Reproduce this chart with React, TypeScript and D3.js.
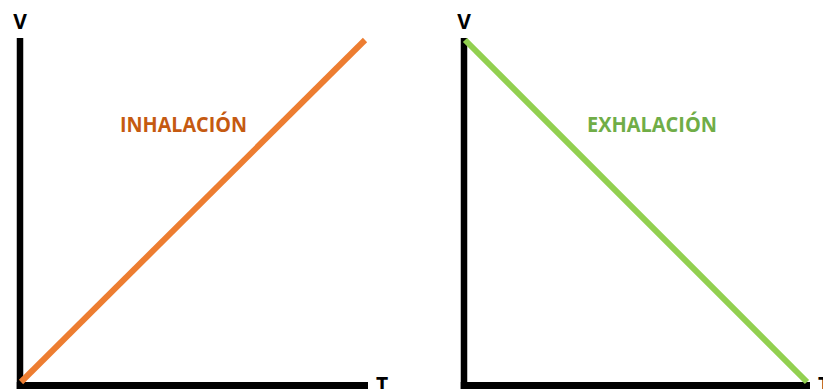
import React from "react";
import * as d3 from "d3";

// Volume over time for each breathing phase (normalised units)
const inhalationT = [0, 1];
const inhalationV = [0, 1];
const exhalationT = [0, 1];
const exhalationV = [1, 0];

const panelTitles = ["INHALACIÓN", "EXHALACIÓN"];
const axisLabels = { x: "T", y: "V" };

const W = 823;
const H = 389;
const FONT = "'Open Sans', 'DejaVu Sans', sans-serif";

type Panel = {
  left: number;
  right: number;
  t: number[];
  v: number[];
  title: string;
  titleX: number;
  titleW: number;
  lineColor: string;
  textColor: string;
};

const panels: Panel[] = [
  {
    left: 21,
    right: 365,
    t: inhalationT,
    v: inhalationV,
    title: panelTitles[0],
    titleX: 120,
    titleW: 127,
    lineColor: "#ED7D31",
    textColor: "#C55A11",
  },
  {
    left: 465,
    right: 807,
    t: exhalationT,
    v: exhalationV,
    title: panelTitles[1],
    titleX: 587,
    titleW: 130,
    lineColor: "#92D050",
    textColor: "#70AD47",
  },
];

const top = 40;
const bottom = 382;

function PanelChart({ p }: { p: Panel }) {
  const x = d3.scaleLinear().domain([0, 1]).range([p.left, p.right]);
  const y = d3.scaleLinear().domain([0, 1]).range([bottom, top]);
  const pts = p.t.map((t, i) => [t, p.v[i]] as [number, number]);
  const line = d3
    .line<[number, number]>()
    .x((d) => x(d[0]))
    .y((d) => y(d[1]));
  const axisX = p.left - 1;
  const axisY = bottom + 3.5;
  return (
    <g>
      {/* axes */}
      <line x1={axisX} y1={38} x2={axisX} y2={H + 2} stroke="#000" strokeWidth={6.5} />
      <line x1={axisX - 3.25} y1={axisY} x2={p.right + 3} y2={axisY} stroke="#000" strokeWidth={7} />
      <text
        x={axisX}
        y={28.5}
        textAnchor="middle"
        fontFamily={FONT}
        fontWeight={700}
        fontSize={21}
        fill="#000"
      >
        {axisLabels.y}
      </text>
      <text
        x={p.right + 17}
        y={392}
        textAnchor="middle"
        fontFamily={FONT}
        fontWeight={700}
        fontSize={21}
        fill="#000"
      >
        {axisLabels.x}
      </text>
      {/* volume line */}
      <path d={line(pts) ?? ""} fill="none" stroke={p.lineColor} strokeWidth={6} />
      <text
        x={p.titleX}
        y={132}
        fontFamily={FONT}
        fontWeight={700}
        fontSize={21}
        fill={p.textColor}
        textLength={p.titleW}
        lengthAdjust="spacingAndGlyphs"
      >
        {p.title}
      </text>
    </g>
  );
}

export default function App() {
  return (
    <svg
      width={W}
      height={H}
      viewBox={`0 0 ${W} ${H}`}
      style={{ position: "absolute", left: 0, top: 0, display: "block", background: "#fff" }}
    >
      <rect width={W} height={H} fill="#fff" />
      {panels.map((p) => (
        <PanelChart key={p.title} p={p} />
      ))}
    </svg>
  );
}
